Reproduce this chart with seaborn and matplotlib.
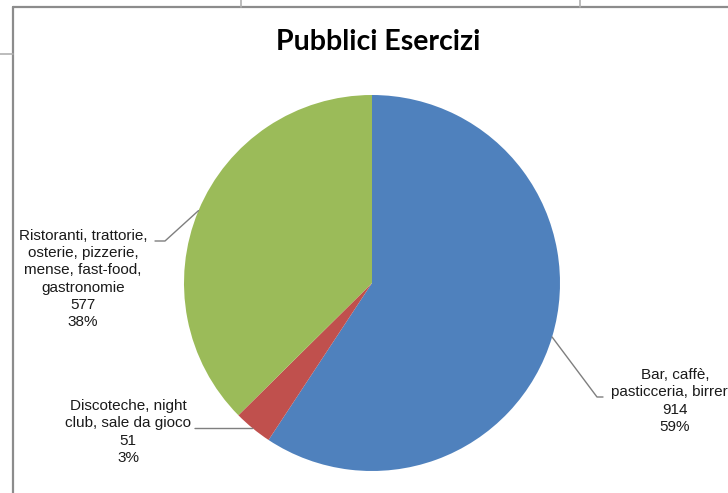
import numpy as np
import matplotlib
matplotlib.use("Agg")
import matplotlib.pyplot as plt
import seaborn as sns
from matplotlib.lines import Line2D

sns.set_theme(style="white")
plt.rcParams['font.family'] = ['Liberation Sans', 'DejaVu Sans']

# ---- data ----
title = "Pubblici Esercizi"
categories = ["Bar, caffè,\npasticceria, birrerie",
              "Discoteche, night\nclub, sale da gioco",
              "Ristoranti, trattorie,\nosterie, pizzerie,\nmense, fast-food,\ngastronomie"]
values = [914, 51, 577]
pct_labels = ["59%", "3%", "38%"]
colors = ["#4F81BD", "#C0504D", "#9BBB59"]

W, H = 728, 493
fig = plt.figure(figsize=(W / 100, H / 100), dpi=100)
fig.patch.set_facecolor("white")

# sheet/frame decorations (pixel layout)
def px_line(x0, y0, x1, y1, color="#8c8c8c", lw=1.6):
    fig.add_artist(Line2D([x0 / W, x1 / W], [1 - y0 / H, 1 - y1 / H],
                          color=color, lw=lw, transform=fig.transFigure))

px_line(12.5, 7, W, 7)
px_line(12.5, 7, 12.5, H)
px_line(241, 0, 241, 7, color="#b0b0b0", lw=1.2)
px_line(580, 0, 580, 7, color="#b0b0b0", lw=1.2)
px_line(0, 54, 12.5, 54, color="#b0b0b0", lw=1.2)

# pie axes: center (372, 283) px, radius 188 px
cx, cy, R = 372, 283, 188
ax = fig.add_axes([(cx - R) / W, (H - cy - R) / H, 2 * R / W, 2 * R / H])

wedges, _ = ax.pie(values, colors=colors, startangle=90, counterclock=False,
                   radius=1, wedgeprops=dict(linewidth=0))
ax.set_xlim(-1, 1)
ax.set_ylim(-1, 1)
ax.set_aspect("equal")
ax.axis("off")

def to_data(px, py):
    return (px - cx) / R, (cy - py) / R

# label layout (pixel positions: text centre, elbow, elbow end)
label_pos = [(675, 401), (128, 432), (83, 279)]
elbows = [((597, 397), (603, 397)), ((252, 428.5), (195, 428.5)), ((165, 241), (155, 241))]

for w, cat, v, p, (tx, ty), (e1, e2) in zip(wedges, categories, values, pct_labels, label_pos, elbows):
    mid = np.deg2rad((w.theta1 + w.theta2) / 2)
    ex, ey = np.cos(mid), np.sin(mid)
    x1, y1 = to_data(*e1)
    x2, y2 = to_data(*e2)
    ax.plot([ex, x1, x2], [ey, y1, y2], color="#7f7f7f", lw=1.0, clip_on=False)
    X, Y = to_data(tx, ty)
    ax.text(X, Y, f"{cat}\n{v}\n{p}", ha="center", va="center", fontsize=11,
            linespacing=1.3, color="#1a1a1a", clip_on=False)

fig.text(378 / W, 1 - 42 / H, title, ha="center", va="center", fontsize=20.5,
         fontweight="bold", family=["Lato", "DejaVu Sans"], color="black")

fig.savefig("out.png", dpi=100)
